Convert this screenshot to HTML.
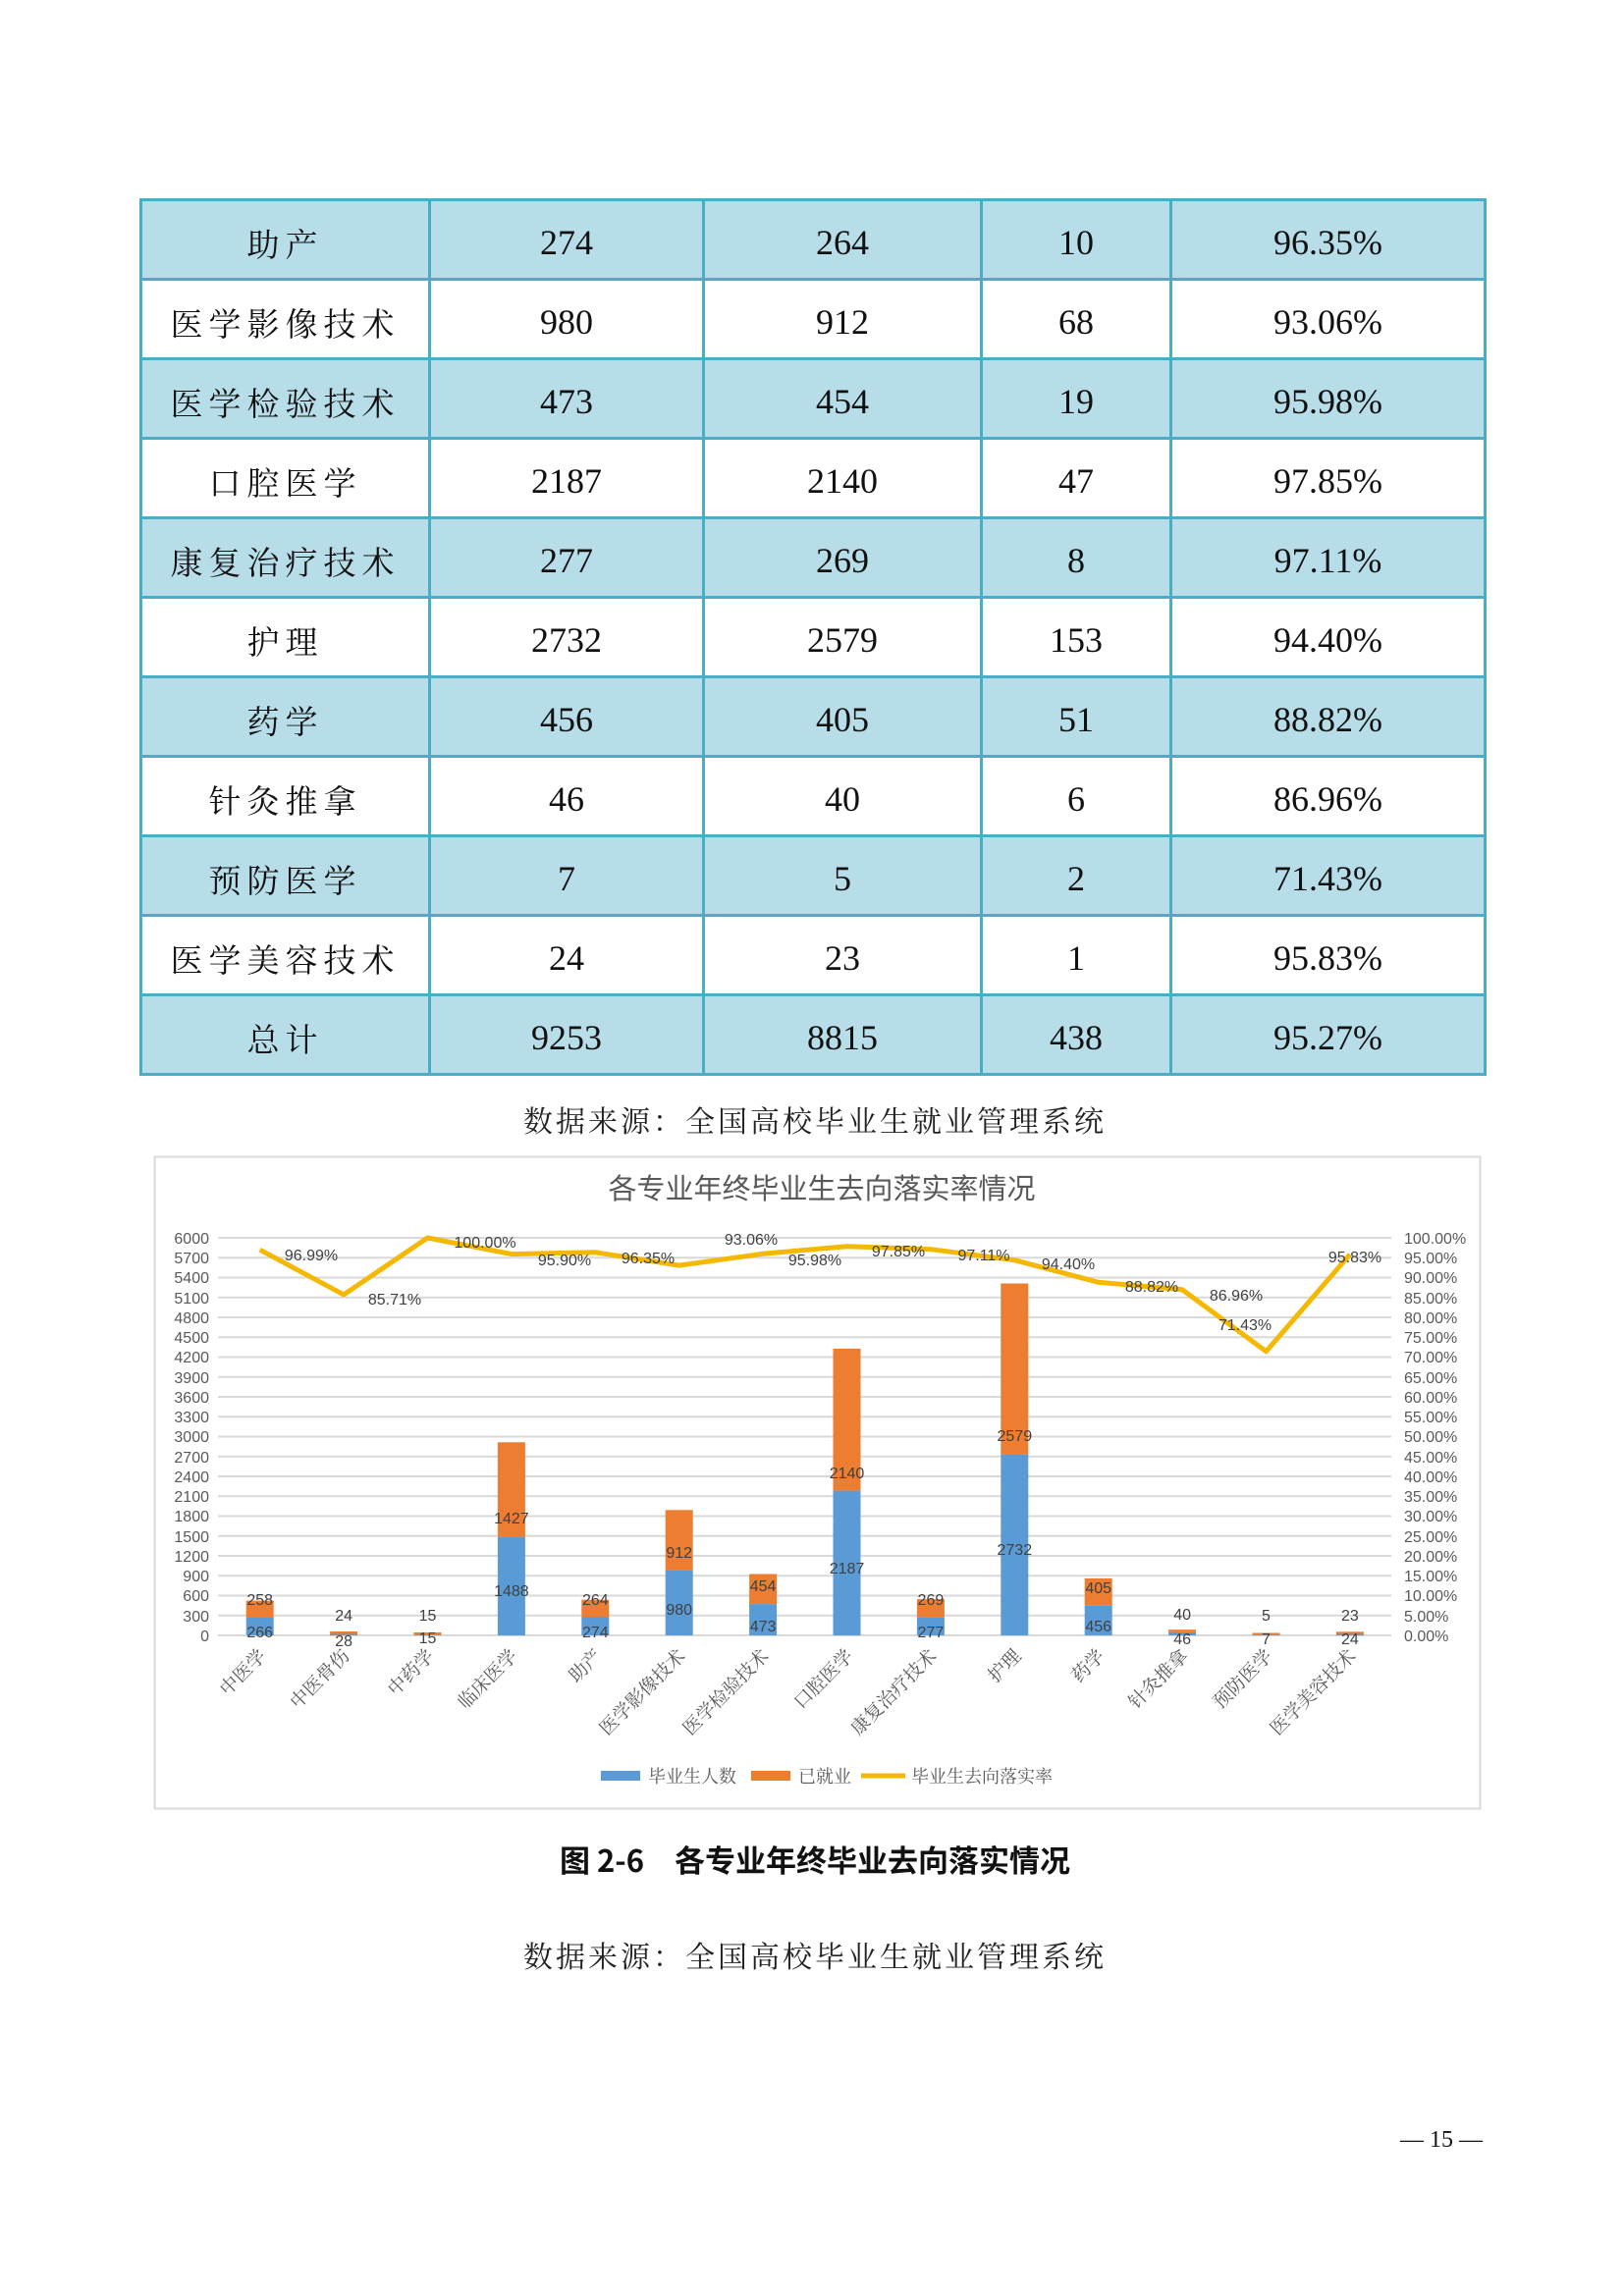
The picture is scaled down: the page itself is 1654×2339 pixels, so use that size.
<!DOCTYPE html>
<html><head><meta charset="utf-8"><style>
body{margin:0;background:#fff;}
#pg{position:relative;width:1654px;height:2339px;background:#fff;overflow:hidden;font-family:"Liberation Serif","Noto Serif CJK SC",serif;}
table{position:absolute;left:142px;top:202px;width:1372px;border-collapse:collapse;table-layout:fixed;}
td{border:3px solid #4BACC6;height:72px;text-align:center;font-size:36px;color:#111;padding:6px 0 0 0;line-height:1;}
td.c{font-family:"Noto Serif CJK SC",serif;font-size:33px;letter-spacing:6px;}
tr.b td{background:#B7DDE8;}
.src{position:absolute;left:0;width:1660px;text-align:center;font-family:"Noto Serif CJK SC",serif;font-size:30px;letter-spacing:3px;color:#222;}
</style></head><body><div id="pg">
<table>
<colgroup><col style="width:294px"><col style="width:279px"><col style="width:283px"><col style="width:193px"><col></colgroup>
<tr class="b"><td class="c">助产</td><td>274</td><td>264</td><td>10</td><td>96.35%</td></tr>
<tr><td class="c">医学影像技术</td><td>980</td><td>912</td><td>68</td><td>93.06%</td></tr>
<tr class="b"><td class="c">医学检验技术</td><td>473</td><td>454</td><td>19</td><td>95.98%</td></tr>
<tr><td class="c">口腔医学</td><td>2187</td><td>2140</td><td>47</td><td>97.85%</td></tr>
<tr class="b"><td class="c">康复治疗技术</td><td>277</td><td>269</td><td>8</td><td>97.11%</td></tr>
<tr><td class="c">护理</td><td>2732</td><td>2579</td><td>153</td><td>94.40%</td></tr>
<tr class="b"><td class="c">药学</td><td>456</td><td>405</td><td>51</td><td>88.82%</td></tr>
<tr><td class="c">针灸推拿</td><td>46</td><td>40</td><td>6</td><td>86.96%</td></tr>
<tr class="b"><td class="c">预防医学</td><td>7</td><td>5</td><td>2</td><td>71.43%</td></tr>
<tr><td class="c">医学美容技术</td><td>24</td><td>23</td><td>1</td><td>95.83%</td></tr>
<tr class="b"><td class="c">总计</td><td>9253</td><td>8815</td><td>438</td><td>95.27%</td></tr>
</table>
<div class="src" style="top:1118px;">数据来源：全国高校毕业生就业管理系统</div>

<svg style="position:absolute;left:0;top:0" width="1654" height="2339" font-family="'Liberation Sans','Noto Sans CJK SC',sans-serif">
<rect x="157.5" y="1178.5" width="1350" height="664" fill="#fff" stroke="#d9d9d9" stroke-width="2"/>
<text x="837" y="1221" font-size="29" fill="#595959" text-anchor="middle" font-family="'Noto Sans CJK SC',sans-serif">各专业年终毕业生去向落实率情况</text>
<g stroke="#d9d9d9" stroke-width="2">
<line x1="222" x2="1417" y1="1261" y2="1261"/><line x1="222" x2="1417" y1="1281.25" y2="1281.25"/><line x1="222" x2="1417" y1="1301.5" y2="1301.5"/><line x1="222" x2="1417" y1="1321.75" y2="1321.75"/><line x1="222" x2="1417" y1="1342" y2="1342"/><line x1="222" x2="1417" y1="1362.25" y2="1362.25"/><line x1="222" x2="1417" y1="1382.5" y2="1382.5"/><line x1="222" x2="1417" y1="1402.75" y2="1402.75"/><line x1="222" x2="1417" y1="1423" y2="1423"/><line x1="222" x2="1417" y1="1443.25" y2="1443.25"/><line x1="222" x2="1417" y1="1463.5" y2="1463.5"/><line x1="222" x2="1417" y1="1483.75" y2="1483.75"/><line x1="222" x2="1417" y1="1504" y2="1504"/><line x1="222" x2="1417" y1="1524.25" y2="1524.25"/><line x1="222" x2="1417" y1="1544.5" y2="1544.5"/><line x1="222" x2="1417" y1="1564.75" y2="1564.75"/><line x1="222" x2="1417" y1="1585" y2="1585"/><line x1="222" x2="1417" y1="1605.25" y2="1605.25"/><line x1="222" x2="1417" y1="1625.5" y2="1625.5"/><line x1="222" x2="1417" y1="1645.75" y2="1645.75"/><line x1="222" x2="1417" y1="1666" y2="1666"/>
</g>
<g font-size="16" fill="#595959" text-anchor="end">
<text x="213" y="1267">6000</text><text x="213" y="1287">5700</text><text x="213" y="1307">5400</text><text x="213" y="1328">5100</text><text x="213" y="1348">4800</text><text x="213" y="1368">4500</text><text x="213" y="1388">4200</text><text x="213" y="1409">3900</text><text x="213" y="1429">3600</text><text x="213" y="1449">3300</text><text x="213" y="1469">3000</text><text x="213" y="1490">2700</text><text x="213" y="1510">2400</text><text x="213" y="1530">2100</text><text x="213" y="1550">1800</text><text x="213" y="1571">1500</text><text x="213" y="1591">1200</text><text x="213" y="1611">900</text><text x="213" y="1631">600</text><text x="213" y="1652">300</text><text x="213" y="1672">0</text>
</g>
<g font-size="16" fill="#595959">
<text x="1430" y="1267">100.00%</text><text x="1430" y="1287">95.00%</text><text x="1430" y="1307">90.00%</text><text x="1430" y="1328">85.00%</text><text x="1430" y="1348">80.00%</text><text x="1430" y="1368">75.00%</text><text x="1430" y="1388">70.00%</text><text x="1430" y="1409">65.00%</text><text x="1430" y="1429">60.00%</text><text x="1430" y="1449">55.00%</text><text x="1430" y="1469">50.00%</text><text x="1430" y="1490">45.00%</text><text x="1430" y="1510">40.00%</text><text x="1430" y="1530">35.00%</text><text x="1430" y="1550">30.00%</text><text x="1430" y="1571">25.00%</text><text x="1430" y="1591">20.00%</text><text x="1430" y="1611">15.00%</text><text x="1430" y="1631">10.00%</text><text x="1430" y="1652">5.00%</text><text x="1430" y="1672">0.00%</text>
</g>
<g fill="#5B9BD5">
<rect x="250.7" y="1648" width="28" height="18"/><rect x="336.1" y="1664.1" width="28" height="1.9"/><rect x="421.5" y="1665" width="28" height="1"/><rect x="506.9" y="1565.6" width="28" height="100.4"/><rect x="592.3" y="1647.5" width="28" height="18.5"/><rect x="677.7" y="1599.9" width="28" height="66.1"/><rect x="763.1" y="1634.1" width="28" height="31.9"/><rect x="848.5" y="1518.4" width="28" height="147.6"/><rect x="933.9" y="1647.3" width="28" height="18.7"/><rect x="1019.3" y="1481.6" width="28" height="184.4"/><rect x="1104.7" y="1635.2" width="28" height="30.8"/><rect x="1190.1" y="1662.9" width="28" height="3.1"/><rect x="1275.5" y="1665.5" width="28" height="0.5"/><rect x="1360.9" y="1664.4" width="28" height="1.6"/>
</g>
<g fill="#ED7D31">
<rect x="250.7" y="1630.6" width="28" height="17.4"/><rect x="336.1" y="1662" width="28" height="2.5"/><rect x="421.5" y="1663" width="28" height="2.5"/><rect x="506.9" y="1469.3" width="28" height="96.3"/><rect x="592.3" y="1629.7" width="28" height="17.8"/><rect x="677.7" y="1538.3" width="28" height="61.6"/><rect x="763.1" y="1603.5" width="28" height="30.6"/><rect x="848.5" y="1373.9" width="28" height="144.5"/><rect x="933.9" y="1629.1" width="28" height="18.2"/><rect x="1019.3" y="1307.5" width="28" height="174.1"/><rect x="1104.7" y="1607.9" width="28" height="27.3"/><rect x="1190.1" y="1660.2" width="28" height="2.7"/><rect x="1275.5" y="1663.5" width="28" height="2"/><rect x="1360.9" y="1662.3" width="28" height="2.2"/>
</g>
<g font-size="16" fill="#404040" text-anchor="middle">
<text x="264.7" y="1668">266</text><text x="350.1" y="1677">28</text><text x="435.5" y="1674">15</text><text x="520.9" y="1626">1488</text><text x="606.3" y="1668">274</text><text x="691.7" y="1645">980</text><text x="777.1" y="1662">473</text><text x="862.5" y="1603">2187</text><text x="947.9" y="1668">277</text><text x="1033.3" y="1584">2732</text><text x="1118.7" y="1662">456</text><text x="1204.1" y="1675">46</text><text x="1289.5" y="1675">7</text><text x="1374.9" y="1675">24</text>
<text x="264.7" y="1635">258</text><text x="350.1" y="1651">24</text><text x="435.5" y="1651">15</text><text x="520.9" y="1552">1427</text><text x="606.3" y="1635">264</text><text x="691.7" y="1587">912</text><text x="777.1" y="1621">454</text><text x="862.5" y="1506">2140</text><text x="947.9" y="1635">269</text><text x="1033.3" y="1468">2579</text><text x="1118.7" y="1623">405</text><text x="1204.1" y="1650">40</text><text x="1289.5" y="1651">5</text><text x="1374.9" y="1651">23</text>
</g>
<polyline fill="none" stroke="#F5B800" stroke-width="5" stroke-linejoin="round" points="264.7,1273.2 350.1,1318.9 435.5,1261 520.9,1277.6 606.3,1275.8 691.7,1289.1 777.1,1277.3 862.5,1269.7 947.9,1272.7 1033.3,1283.7 1118.7,1306.3 1204.1,1313.8 1289.5,1376.7 1374.9,1277.9"/>
<g font-size="16" fill="#404040" text-anchor="middle">
<text x="317" y="1284">96.99%</text><text x="402" y="1329">85.71%</text><text x="494" y="1271">100.00%</text><text x="575" y="1289">95.90%</text><text x="660" y="1287">96.35%</text><text x="765" y="1268">93.06%</text><text x="830" y="1289">95.98%</text><text x="915" y="1280">97.85%</text><text x="1002" y="1284">97.11%</text><text x="1088" y="1293">94.40%</text><text x="1173" y="1316">88.82%</text><text x="1259" y="1325">86.96%</text><text x="1268" y="1355">71.43%</text><text x="1380" y="1286">95.83%</text>
</g>
<g font-size="19" fill="#595959" text-anchor="end" font-family="'Noto Serif CJK SC',serif">
<text transform="translate(272,1688) rotate(-45)">中医学</text>
<text transform="translate(357,1688) rotate(-45)">中医骨伤</text>
<text transform="translate(443,1688) rotate(-45)">中药学</text>
<text transform="translate(528,1688) rotate(-45)">临床医学</text>
<text transform="translate(614,1688) rotate(-45)">助产</text>
<text transform="translate(699,1688) rotate(-45)">医学影像技术</text>
<text transform="translate(784,1688) rotate(-45)">医学检验技术</text>
<text transform="translate(870,1688) rotate(-45)">口腔医学</text>
<text transform="translate(955,1688) rotate(-45)">康复治疗技术</text>
<text transform="translate(1041,1688) rotate(-45)">护理</text>
<text transform="translate(1126,1688) rotate(-45)">药学</text>
<text transform="translate(1211,1688) rotate(-45)">针灸推拿</text>
<text transform="translate(1297,1688) rotate(-45)">预防医学</text>
<text transform="translate(1382,1688) rotate(-45)">医学美容技术</text>
</g>
<rect x="612" y="1804" width="40" height="10" fill="#5B9BD5"/>
<text x="660" y="1816" font-size="18" fill="#595959" font-family="'Noto Serif CJK SC',serif">毕业生人数</text>
<rect x="765" y="1804" width="40" height="10" fill="#ED7D31"/>
<text x="813" y="1816" font-size="18" fill="#595959" font-family="'Noto Serif CJK SC',serif">已就业</text>
<line x1="877" x2="922" y1="1809" y2="1809" stroke="#F5B800" stroke-width="5"/>
<text x="928" y="1816" font-size="18" fill="#595959" font-family="'Noto Serif CJK SC',serif">毕业生去向落实率</text>
<text x="830" y="1907" font-size="31" font-weight="bold" fill="#111" text-anchor="middle" font-family="'Noto Sans CJK SC',sans-serif">图 2-6　各专业年终毕业去向落实情况</text>
<text x="1468" y="2187" font-size="24" fill="#111" text-anchor="middle" font-family="'Liberation Serif',serif">— 15 —</text>
</svg>
<div class="src" style="top:1969px;">数据来源：全国高校毕业生就业管理系统</div>
</div></body></html>
